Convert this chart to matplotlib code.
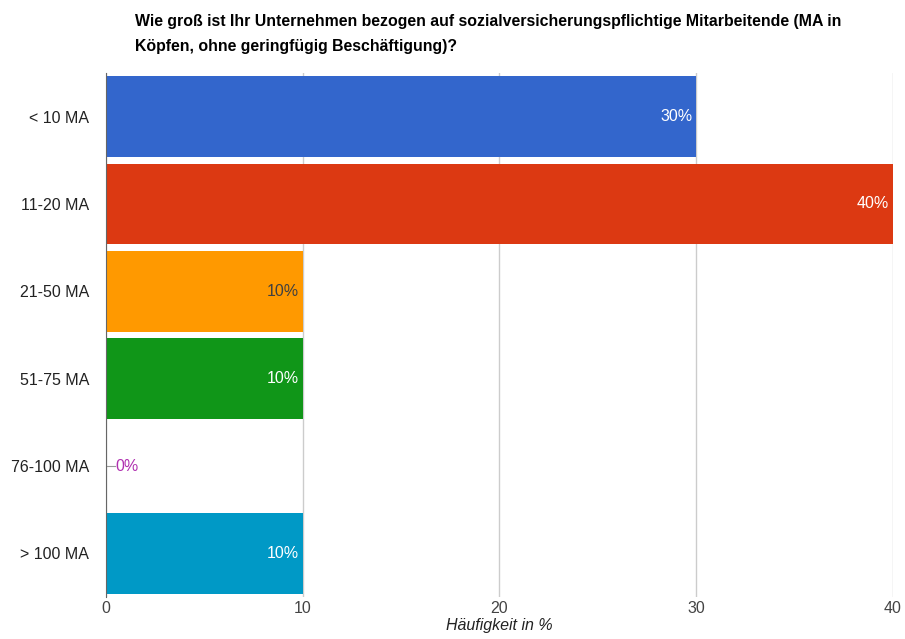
import numpy as np
import matplotlib
matplotlib.use('Agg')
import matplotlib.pyplot as plt

plt.rcParams['font.family'] = ['Liberation Sans', 'DejaVu Sans']

categories = ['< 10 MA', '11-20 MA', '21-50 MA', '51-75 MA', '76-100 MA', '> 100 MA']
values = [30, 40, 10, 10, 0, 10]
colors = ['#3366cc', '#dc3912', '#ff9900', '#109618', '#990099', '#0099c6']
label_colors = ['white', 'white', '#404040', 'white', '#b030b0', 'white']
xticks = [0, 10, 20, 30, 40]

fig = plt.figure(figsize=(9.05, 6.39), dpi=100)
ax = fig.add_axes([0.117, 0.0657, 0.8698, 0.8201])

y = np.arange(len(categories))
ax.barh(y, values, height=0.92, color=colors, zorder=2)

for i, v in enumerate(values):
    if v > 0:
        ax.text(v - 0.2, y[i], f'{v}%', ha='right', va='center',
                fontsize=11.5, color=label_colors[i], zorder=3)
    else:
        ax.plot([0, 0.45], [y[i], y[i]], color='#999999', lw=0.8, zorder=3)
        ax.text(0.5, y[i], f'{v}%', ha='left', va='center',
                fontsize=11.5, color=label_colors[i], zorder=3)

ax.set_xlim(0, 40)
ax.set_ylim(len(categories) - 0.5, -0.5)
ax.set_xticks(xticks)
ax.set_xticklabels([str(t) for t in xticks], fontsize=11.5, color='#444444')
ax.set_yticks(y)
ax.set_yticklabels(categories, fontsize=11.5, color='#222222')
ax.tick_params(axis='y', length=0, pad=12)
ax.tick_params(axis='x', length=0, pad=3)
ax.xaxis.grid(True, color='#cccccc', lw=1, zorder=0)
for s in ['top', 'right', 'bottom']:
    ax.spines[s].set_visible(False)
ax.spines['left'].set_color('#666666')
ax.spines['left'].set_zorder(4)
ax.set_xlabel('Häufigkeit in %', fontsize=11.5, style='italic', color='#222222', labelpad=1)

fig.text(0.149, 0.978, 'Wie groß ist Ihr Unternehmen bezogen auf sozialversicherungspflichtige Mitarbeitende (MA in\nKöpfen, ohne geringfügig Beschäftigung)?',
         ha='left', va='top', fontsize=11.4, fontweight='bold', color='#000000', linespacing=1.8)

plt.savefig('out.png', dpi=100)
